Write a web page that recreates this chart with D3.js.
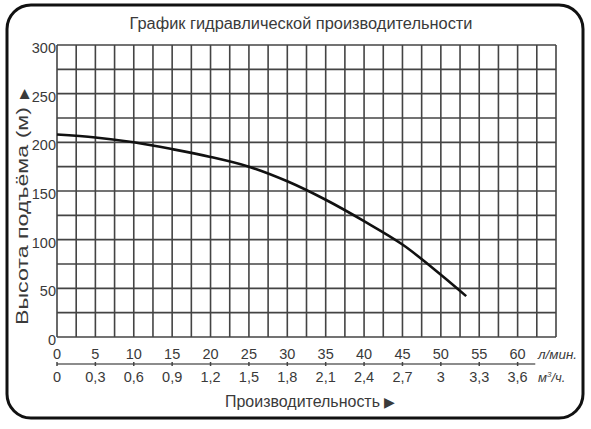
<!DOCTYPE html>
<html>
<head>
<meta charset="utf-8">
<script src="https://cdn.jsdelivr.net/npm/d3@7"></script>
<style>
  body { margin: 0; background: #fff; }
  text { font-family: "Liberation Sans", Arial, sans-serif; fill: #3a3a3a; }
</style>
</head>
<body>
<svg id="chart" width="591" height="429"></svg>
<script>
// flow in l/min and head in metres
const flowLpm = [0, 5, 10, 15, 20, 25, 30, 35, 40, 45, 50, 53.3];
const headM = [208, 205, 200, 193, 185, 175, 160, 141, 119, 95, 64, 42];

const lpmTicks = [0, 5, 10, 15, 20, 25, 30, 35, 40, 45, 50, 55, 60];
const m3Labels = ["0", "0,3", "0,6", "0,9", "1,2", "1,5", "1,8", "2,1", "2,4", "2,7", "3", "3,3", "3,6"];
const headTicks = [0, 50, 100, 150, 200, 250, 300];

const svg = d3.select("#chart");

// outer rounded frame
svg.append("rect")
    .attr("x", 7).attr("y", 5)
    .attr("width", 576).attr("height", 413)
    .attr("rx", 24)
    .attr("fill", "#fff")
    .attr("stroke", "#111")
    .attr("stroke-width", 3);

const x = d3.scaleLinear().domain([0, 65]).range([57, 556]);
const y = d3.scaleLinear().domain([0, 300]).range([337, 45]);

// grid
const grid = svg.append("g").attr("stroke", "#444").attr("stroke-width", 1.6);
grid.selectAll("line.v")
    .data(d3.range(0, 65.01, 2.5))
    .join("line")
    .attr("x1", d => x(d)).attr("x2", d => x(d))
    .attr("y1", y(0)).attr("y2", y(300));
grid.selectAll("line.h")
    .data(d3.range(0, 300.01, 25))
    .join("line")
    .attr("x1", x(0)).attr("x2", x(65))
    .attr("y1", d => y(d)).attr("y2", d => y(d));

// performance curve
const line = d3.line()
    .x((d, i) => x(flowLpm[i]))
    .y(d => y(d))
    .curve(d3.curveCatmullRom.alpha(0.5));

svg.append("path")
    .datum(headM)
    .attr("fill", "none")
    .attr("stroke", "#111")
    .attr("stroke-width", 2.6)
    .attr("d", line);

// y tick labels
svg.append("g")
    .selectAll("text")
    .data(headTicks)
    .join("text")
    .attr("x", 56)
    .attr("y", d => y(d) + 8)
    .attr("text-anchor", "end")
    .style("font-size", "14.5px")
    .text(d => d);

// l/min row
svg.append("g")
    .selectAll("text")
    .data(lpmTicks)
    .join("text")
    .attr("x", d => x(d))
    .attr("y", 359)
    .attr("text-anchor", "middle")
    .style("font-size", "14.5px")
    .text(d => d);

// separator line with small ticks
svg.append("line")
    .attr("x1", x(0)).attr("x2", x(62.3))
    .attr("y1", 364).attr("y2", 364)
    .attr("stroke", "#666").attr("stroke-width", 1.5);
svg.append("g")
    .selectAll("line")
    .data(lpmTicks)
    .join("line")
    .attr("x1", d => x(d)).attr("x2", d => x(d))
    .attr("y1", 362).attr("y2", 366)
    .attr("stroke", "#444").attr("stroke-width", 1.5);

// m3/h row
svg.append("g")
    .selectAll("text")
    .data(lpmTicks)
    .join("text")
    .attr("x", d => x(d))
    .attr("y", 382)
    .attr("text-anchor", "middle")
    .style("font-size", "14.5px")
    .text((d, i) => m3Labels[i]);

// unit labels
svg.append("text")
    .attr("x", 538).attr("y", 359)
    .style("font-size", "13px").style("font-style", "italic")
    .attr("textLength", 39).attr("lengthAdjust", "spacingAndGlyphs")
    .text("л/мин.");
const unit2 = svg.append("text")
    .attr("x", 538).attr("y", 382)
    .style("font-size", "13px").style("font-style", "italic");
unit2.append("tspan").text("м");
unit2.append("tspan").attr("dy", -5).style("font-size", "8px").text("3");
unit2.append("tspan").attr("dy", 5).text("/ч.");

// titles
svg.append("text")
    .attr("x", 301).attr("y", 29)
    .attr("text-anchor", "middle")
    .style("font-size", "16px")
    .attr("textLength", 343).attr("lengthAdjust", "spacingAndGlyphs")
    .text("График гидравлической производительности");

svg.append("text")
    .attr("x", 225).attr("y", 407)
    .style("font-size", "16px")
    .attr("textLength", 155).attr("lengthAdjust", "spacingAndGlyphs")
    .text("Производительность");
svg.append("text")
    .attr("x", 384).attr("y", 407)
    .style("font-size", "14px")
    .text("▶");

svg.append("text")
    .attr("transform", "translate(28,325) rotate(-90)")
    .style("font-size", "16px")
    .attr("textLength", 218).attr("lengthAdjust", "spacingAndGlyphs")
    .text("Высота подъёма (м)");
svg.append("text")
    .attr("transform", "translate(28,99) rotate(-90)")
    .style("font-size", "13px")
    .text("▶");
</script>
</body>
</html>
